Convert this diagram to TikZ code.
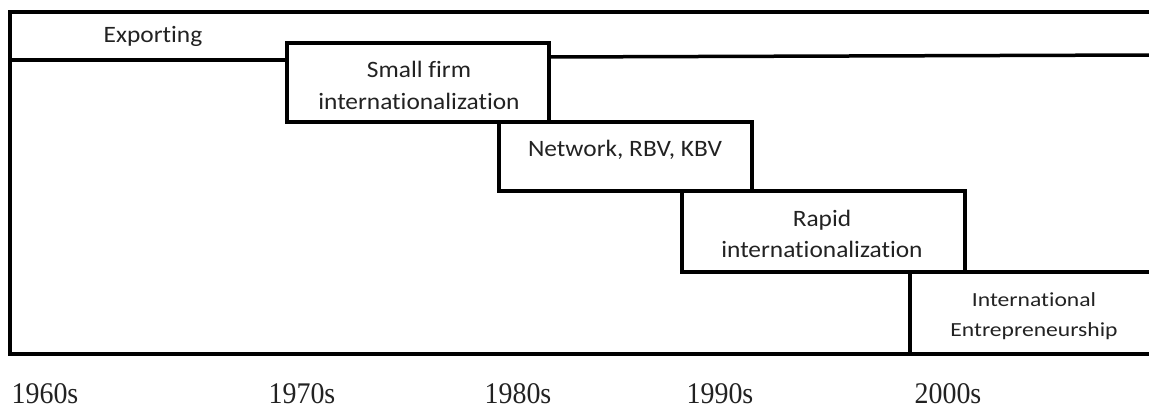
\documentclass[tikz,border=0pt]{standalone}
\usepackage{graphicx}
\usepackage{fontspec}
\setmainfont{Carlito}[Ligatures={NoCommon,NoContextual}]
\newfontfamily\decfont{Liberation Serif}
\definecolor{txt}{HTML}{222222}
\newcommand\sx[2]{\scalebox{#1}[1]{#2}}
\begin{document}
\begin{tikzpicture}[x=1pt,y=-1pt,
  frame/.style={draw=black,line width=3.5pt,line join=miter,line cap=rect},
  lbl/.style={font=\fontsize{23.5}{32}\selectfont,text=txt,inner sep=0pt,anchor=base},
  small/.style={font=\fontsize{20}{28}\selectfont,text=txt,inner sep=0pt,anchor=base},
  dec/.style={font=\decfont\fontsize{30}{32}\selectfont,text=txt,inner sep=0pt,anchor=base}]
\useasboundingbox (0,0) rectangle (1149,411);
% outer frame and bands
\draw[frame] (1152,12) -- (10,12) -- (10,354) -- (1152,354);
\draw[frame] (10,60) -- (287,60);
\draw[frame] (549,57) -- (1152,55);
\draw[frame] (287,43) rectangle (549,122);
\draw[frame] (499,122) rectangle (752,191);
\draw[frame] (682,191) rectangle (965,272);
\draw[frame] (965,272) -- (1152,272);
\draw[frame] (910,272) -- (910,354);
% labels
\node[lbl] (exp) at (153,43) {\sx{1.08}{Exporting}};
\node[lbl] (sf1) at (419,78) {\sx{1.08}{Small firm}};
\node[lbl] (sf2) at (419,110) {\sx{1.08}{internationalization}};
\node[lbl] (nw) at (625,157) {\sx{1.08}{Network, RBV, KBV}};
\node[lbl] (ri1) at (822,227) {\sx{1.08}{Rapid}};
\node[lbl] (ri2) at (822,258) {\sx{1.08}{internationalization}};
\node[small] (ie1) at (1034,307) {\sx{1.18}{International}};
\node[small] (ie2) at (1034,337) {\sx{1.18}{Entrepreneurship}};
\node[dec] (d60) at (45,404) {\sx{0.93}{1960s}};
\node[dec] (d70) at (302,404) {\sx{0.93}{1970s}};
\node[dec] (d80) at (518,404) {\sx{0.93}{1980s}};
\node[dec] (d90) at (720,404) {\sx{0.93}{1990s}};
\node[dec] (d00) at (948,404) {\sx{0.93}{2000s}};
\end{tikzpicture}
\end{document}
